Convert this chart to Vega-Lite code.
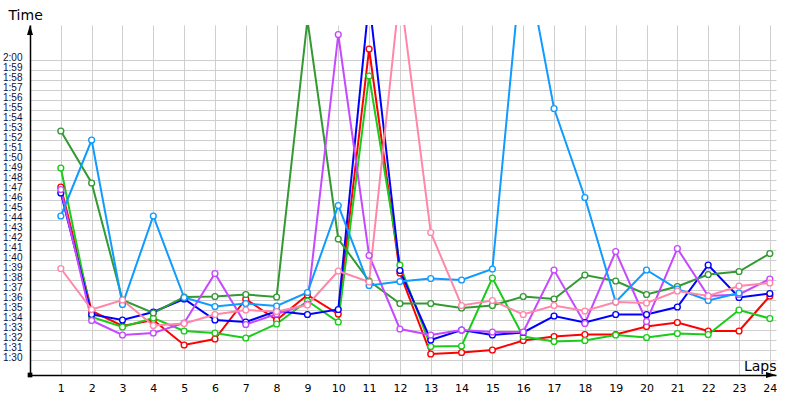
{
  "$schema": "https://vega.github.io/schema/vega-lite/v6.json",
  "width": 746,
  "height": 350,
  "autosize": "none",
  "padding": {"left": 30, "top": 25, "right": 24, "bottom": 25},
  "background": "white",
  "config": {"view": {"stroke": null}},
  "datasets": {
    "laps": [
      {"lap":1,"driver":"red","time":107.3},{"lap":2,"driver":"red","time":94.9},{"lap":3,"driver":"red","time":93.4},{"lap":4,"driver":"red","time":94.0},{"lap":5,"driver":"red","time":91.5},{"lap":6,"driver":"red","time":92.1},{"lap":7,"driver":"red","time":96.1},{"lap":8,"driver":"red","time":94.0},{"lap":9,"driver":"red","time":96.5},{"lap":10,"driver":"red","time":94.6},{"lap":11,"driver":"red","time":121.1},{"lap":12,"driver":"red","time":98.7},{"lap":13,"driver":"red","time":90.6},{"lap":14,"driver":"red","time":90.75},{"lap":15,"driver":"red","time":91.0},{"lap":16,"driver":"red","time":91.95},{"lap":17,"driver":"red","time":92.35},{"lap":18,"driver":"red","time":92.55},{"lap":19,"driver":"red","time":92.55},{"lap":20,"driver":"red","time":93.35},{"lap":21,"driver":"red","time":93.75},{"lap":22,"driver":"red","time":92.9},{"lap":23,"driver":"red","time":92.9},{"lap":24,"driver":"red","time":96.4},
      {"lap":1,"driver":"green","time":109.2},{"lap":2,"driver":"green","time":94.3},{"lap":3,"driver":"green","time":93.3},{"lap":4,"driver":"green","time":94.2},{"lap":5,"driver":"green","time":92.9},{"lap":6,"driver":"green","time":92.7},{"lap":7,"driver":"green","time":92.2},{"lap":8,"driver":"green","time":93.6},{"lap":9,"driver":"green","time":95.9},{"lap":10,"driver":"green","time":93.8},{"lap":11,"driver":"green","time":118.4},{"lap":12,"driver":"green","time":99.5},{"lap":13,"driver":"green","time":91.35},{"lap":14,"driver":"green","time":91.4},{"lap":15,"driver":"green","time":98.2},{"lap":16,"driver":"green","time":92.35},{"lap":17,"driver":"green","time":91.85},{"lap":18,"driver":"green","time":91.95},{"lap":19,"driver":"green","time":92.5},{"lap":20,"driver":"green","time":92.25},{"lap":21,"driver":"green","time":92.65},{"lap":22,"driver":"green","time":92.55},{"lap":23,"driver":"green","time":95.0},{"lap":24,"driver":"green","time":94.15},
      {"lap":1,"driver":"blue","time":106.7},{"lap":2,"driver":"blue","time":94.55},{"lap":3,"driver":"blue","time":94.0},{"lap":4,"driver":"blue","time":94.8},{"lap":5,"driver":"blue","time":96.1},{"lap":6,"driver":"blue","time":94.0},{"lap":7,"driver":"blue","time":93.8},{"lap":8,"driver":"blue","time":94.9},{"lap":9,"driver":"blue","time":94.55},{"lap":10,"driver":"blue","time":95.05},{"lap":11,"driver":"blue","time":126},{"lap":12,"driver":"blue","time":98.95},{"lap":13,"driver":"blue","time":92.0},{"lap":14,"driver":"blue","time":93.0},{"lap":15,"driver":"blue","time":92.5},{"lap":16,"driver":"blue","time":92.75},{"lap":17,"driver":"blue","time":94.4},{"lap":18,"driver":"blue","time":93.75},{"lap":19,"driver":"blue","time":94.55},{"lap":20,"driver":"blue","time":94.55},{"lap":21,"driver":"blue","time":95.3},{"lap":22,"driver":"blue","time":99.5},{"lap":23,"driver":"blue","time":96.25},{"lap":24,"driver":"blue","time":96.65},
      {"lap":1,"driver":"darkgreen","time":112.9},{"lap":2,"driver":"darkgreen","time":107.7},{"lap":3,"driver":"darkgreen","time":96.0},{"lap":4,"driver":"darkgreen","time":94.7},{"lap":5,"driver":"darkgreen","time":96.3},{"lap":6,"driver":"darkgreen","time":96.35},{"lap":7,"driver":"darkgreen","time":96.55},{"lap":8,"driver":"darkgreen","time":96.3},{"lap":9,"driver":"darkgreen","time":124},{"lap":10,"driver":"darkgreen","time":102.1},{"lap":11,"driver":"darkgreen","time":97.9},{"lap":12,"driver":"darkgreen","time":95.65},{"lap":13,"driver":"darkgreen","time":95.65},{"lap":14,"driver":"darkgreen","time":95.2},{"lap":15,"driver":"darkgreen","time":95.45},{"lap":16,"driver":"darkgreen","time":96.35},{"lap":17,"driver":"darkgreen","time":96.1},{"lap":18,"driver":"darkgreen","time":98.5},{"lap":19,"driver":"darkgreen","time":97.9},{"lap":20,"driver":"darkgreen","time":96.55},{"lap":21,"driver":"darkgreen","time":97.35},{"lap":22,"driver":"darkgreen","time":98.55},{"lap":23,"driver":"darkgreen","time":98.85},{"lap":24,"driver":"darkgreen","time":100.65},
      {"lap":1,"driver":"purple","time":107.05},{"lap":2,"driver":"purple","time":93.95},{"lap":3,"driver":"purple","time":92.5},{"lap":4,"driver":"purple","time":92.7},{"lap":5,"driver":"purple","time":93.7},{"lap":6,"driver":"purple","time":98.65},{"lap":7,"driver":"purple","time":93.55},{"lap":8,"driver":"purple","time":94.6},{"lap":9,"driver":"purple","time":95.6},{"lap":10,"driver":"purple","time":122.55},{"lap":11,"driver":"purple","time":100.45},{"lap":12,"driver":"purple","time":93.1},{"lap":13,"driver":"purple","time":92.5},{"lap":14,"driver":"purple","time":93.0},{"lap":15,"driver":"purple","time":92.8},{"lap":16,"driver":"purple","time":92.8},{"lap":17,"driver":"purple","time":99.0},{"lap":18,"driver":"purple","time":93.65},{"lap":19,"driver":"purple","time":100.85},{"lap":20,"driver":"purple","time":93.85},{"lap":21,"driver":"purple","time":101.15},{"lap":22,"driver":"purple","time":96.4},{"lap":23,"driver":"purple","time":96.55},{"lap":24,"driver":"purple","time":98.1},
      {"lap":1,"driver":"lightblue","time":104.4},{"lap":2,"driver":"lightblue","time":112.0},{"lap":3,"driver":"lightblue","time":95.55},{"lap":4,"driver":"lightblue","time":104.4},{"lap":5,"driver":"lightblue","time":96.25},{"lap":6,"driver":"lightblue","time":95.35},{"lap":7,"driver":"lightblue","time":95.65},{"lap":8,"driver":"lightblue","time":95.4},{"lap":9,"driver":"lightblue","time":96.75},{"lap":10,"driver":"lightblue","time":105.45},{"lap":11,"driver":"lightblue","time":97.45},{"lap":12,"driver":"lightblue","time":97.85},{"lap":13,"driver":"lightblue","time":98.15},{"lap":14,"driver":"lightblue","time":98.0},{"lap":15,"driver":"lightblue","time":99.1},{"lap":16,"driver":"lightblue","time":131.5},{"lap":17,"driver":"lightblue","time":115.15},{"lap":18,"driver":"lightblue","time":106.25},{"lap":19,"driver":"lightblue","time":95.8},{"lap":20,"driver":"lightblue","time":99.0},{"lap":21,"driver":"lightblue","time":97.1},{"lap":22,"driver":"lightblue","time":95.95},{"lap":23,"driver":"lightblue","time":96.7},
      {"lap":1,"driver":"pink","time":99.15},{"lap":2,"driver":"pink","time":95.05},{"lap":3,"driver":"pink","time":96.0},{"lap":4,"driver":"pink","time":93.45},{"lap":5,"driver":"pink","time":93.65},{"lap":6,"driver":"pink","time":94.55},{"lap":7,"driver":"pink","time":95.0},{"lap":8,"driver":"pink","time":94.85},{"lap":9,"driver":"pink","time":95.5},{"lap":10,"driver":"pink","time":98.9},{"lap":11,"driver":"pink","time":97.8},{"lap":12,"driver":"pink","time":127},{"lap":13,"driver":"pink","time":102.75},{"lap":14,"driver":"pink","time":95.45},{"lap":15,"driver":"pink","time":95.95},{"lap":16,"driver":"pink","time":94.55},{"lap":17,"driver":"pink","time":95.45},{"lap":18,"driver":"pink","time":94.9},{"lap":19,"driver":"pink","time":95.8},{"lap":20,"driver":"pink","time":95.7},{"lap":21,"driver":"pink","time":96.9},{"lap":22,"driver":"pink","time":96.4},{"lap":23,"driver":"pink","time":97.4},{"lap":24,"driver":"pink","time":97.7}
    ],
    "yarrow": [{"lap": 0, "time": 123.5}],
    "xarrow": [{"lap": 24.2, "time": 88.5}],
    "origin": [{"lap": 0, "time": 88.5}]
  },
  "encoding": {
    "x": {
      "field": "lap", "type": "quantitative",
      "scale": {"domain": [0, 24.2], "nice": false, "zero": false},
      "axis": {
        "values": [1,2,3,4,5,6,7,8,9,10,11,12,13,14,15,16,17,18,19,20,21,22,23,24],
        "grid": true, "gridColor": "#cfcfcf", "gridWidth": 1,
        "domainColor": "#000000", "domainWidth": 1.5,
        "ticks": false, "labelPadding": 7,
        "labelFont": "DejaVu Sans", "labelFontSize": 11, "labelColor": "#000000",
        "labelFlush": false, "labelOverlap": false,
        "title": "Laps", "titleAngle": 0, "titleX": 746, "titleY": -5,
        "titleAlign": "right", "titleBaseline": "alphabetic",
        "titleFont": "DejaVu Sans", "titleFontSize": 14, "titleFontWeight": "normal", "titleColor": "#000000"
      }
    },
    "y": {
      "field": "time", "type": "quantitative",
      "scale": {"domain": [88.5, 123.5], "nice": false, "zero": false},
      "axis": {
        "values": [90,91,92,93,94,95,96,97,98,99,100,101,102,103,104,105,106,107,108,109,110,111,112,113,114,115,116,117,118,119,120],
        "labelExpr": "floor(datum.value/60) + ':' + (datum.value % 60 < 10 ? '0' : '') + (datum.value % 60)",
        "grid": true, "gridColor": "#cfcfcf", "gridWidth": 1,
        "domainColor": "#000000", "domainWidth": 1.5,
        "ticks": false, "labelPadding": 8,
        "labelFont": "Liberation Sans", "labelFontSize": 10, "labelColor": "#10103a",
        "labelBaseline": "alphabetic", "labelOverlap": false, "labelFlush": false,
        "title": "Time", "titleAngle": 0, "titleX": -22, "titleY": -6,
        "titleAlign": "left", "titleBaseline": "alphabetic",
        "titleFont": "DejaVu Sans", "titleFontSize": 14, "titleFontWeight": "normal", "titleColor": "#000000"
      }
    }
  },
  "layer": [
    {
      "data": {"name": "laps"},
      "mark": {"type": "line", "strokeWidth": 2, "clip": true},
      "encoding": {
        "color": {
          "field": "driver", "type": "nominal", "legend": null,
          "scale": {
            "domain": ["pink", "lightblue", "darkgreen", "purple", "green", "red", "blue"],
            "range": ["#ff88aa", "#0f9bff", "#339933", "#c649ff", "#19cc19", "#ff0000", "#0000ff"]
          }
        }
      }
    },
    {
      "data": {"name": "laps"},
      "mark": {"type": "point", "filled": false, "fill": "white", "fillOpacity": 1, "size": 34, "strokeWidth": 1.4, "opacity": 1, "clip": true},
      "encoding": {
        "color": {"field": "driver", "type": "nominal", "legend": null}
      }
    },
    {
      "data": {"name": "yarrow"},
      "mark": {"type": "point", "shape": "M-0.3,1L0,0L0.3,1Z", "filled": true, "color": "#000000", "size": 400, "opacity": 1, "clip": false},
      "encoding": {}
    },
    {
      "data": {"name": "xarrow"},
      "mark": {"type": "point", "shape": "M-1,-0.3L0,0L-1,0.3Z", "filled": true, "color": "#000000", "size": 400, "opacity": 1, "clip": false},
      "encoding": {}
    },
    {
      "data": {"name": "origin"},
      "mark": {"type": "square", "color": "#000000", "size": 22, "opacity": 1, "clip": false},
      "encoding": {}
    }
  ]
}
